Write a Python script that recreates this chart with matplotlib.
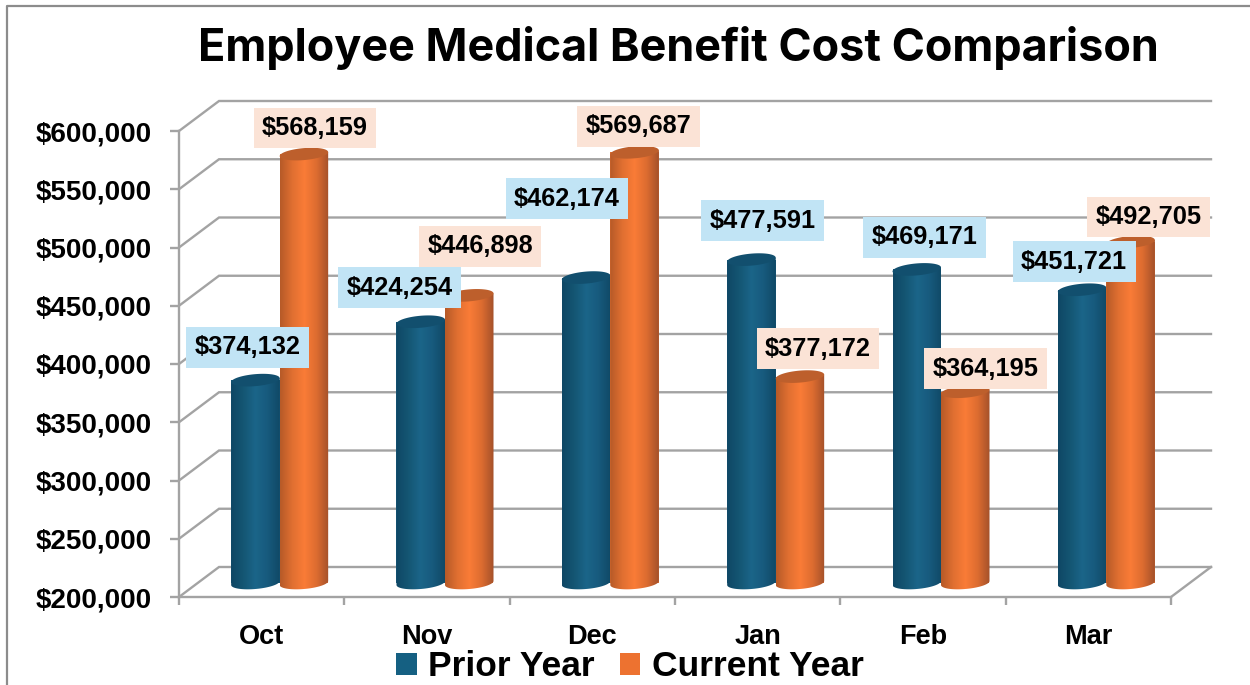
import numpy as np
import matplotlib
matplotlib.use("Agg")
import matplotlib.pyplot as plt
from matplotlib.colors import LinearSegmentedColormap
from matplotlib.patches import Polygon, Rectangle
from matplotlib.transforms import offset_copy

# data
months = ["Oct", "Nov", "Dec", "Jan", "Feb", "Mar"]
prior_year = [374132, 424254, 462174, 477591, 469171, 451721]
current_year = [568159, 446898, 569687, 377172, 364195, 492705]
y_ticks = [200000, 250000, 300000, 350000, 400000, 450000, 500000, 550000, 600000]

# label offsets from the top of each bar, in pixels
prior_offsets = [(-8, 33), (-21, 34), (-19, 79), (11, 39), (8, 32), (-8, 28)]
current_offsets = [(11, 26), (11, 49), (4, 26), (18, 28), (20, 23), (18, 25)]

W, H = 1250, 685
fig = plt.figure(figsize=(W / 100, H / 100), dpi=100, facecolor="white")

# front plane of the fake 3d box
left, right, top, bottom = 179, 1171, 131, 597
ax = fig.add_axes([left / W, 1 - bottom / H, (right - left) / W, (bottom - top) / H])
ax.set_xlim(-0.5, 5.5)
ax.set_ylim(200000, 600000)
ax.patch.set_visible(False)

px_x = 6 / (right - left)
px_y = 400000 / (bottom - top)
grey = "#a3a3a3"

# walls
depth_x = 40 * px_x
depth_y = 30 * px_y
for v in y_ticks:
    ax.plot([-0.5, -0.5 + depth_x, 5.5 + depth_x], [v, v + depth_y, v + depth_y],
            color=grey, lw=1.7, clip_on=False, zorder=1, solid_joinstyle="miter")
ax.plot([5.5, 5.5 + depth_x], [200000, 200000 + depth_y], color=grey, lw=1.7, clip_on=False, zorder=1)

# axes
for s in ["top", "right"]:
    ax.spines[s].set_visible(False)
for s in ["left", "bottom"]:
    ax.spines[s].set_color(grey)
    ax.spines[s].set_linewidth(1.7)
    ax.spines[s].set_zorder(1.5)

ax.set_yticks(y_ticks)
ax.set_yticklabels(["${:,}".format(v) for v in y_ticks], fontsize=20, fontweight="bold",
                   family="Liberation Sans")
ax.tick_params(axis="y", length=6.5, width=1.7, color=grey, pad=13)
ax.set_xticks(np.arange(-0.5, 6, 1))
ax.set_xticklabels([])
ax.tick_params(axis="x", length=6, width=1.7, color=grey)
ax.set_xticks(np.arange(6), months, minor=True, fontsize=19.5, fontweight="bold",
              family="Liberation Sans")
ax.tick_params(axis="x", which="minor", length=0, pad=19.5)

# cylinders
bar_trans = offset_copy(ax.transData, fig=fig, x=18, y=14, units="dots")
bar_w = 48.5 * px_x
cap_h = 6 * px_y
tilt = 2 * px_y

blue_map = LinearSegmentedColormap.from_list("b", ["#0f4765", "#145673", "#1b6589", "#175a7d", "#104966"])
orange_map = LinearSegmentedColormap.from_list("o", ["#b65a28", "#e06f31", "#fa7c37", "#dd6c30", "#a4512a"])
grad = np.linspace(0, 1, 128).reshape(1, -1)


def cylinder(cx, v, cmap, side, cap, z):
    t = np.linspace(0, 2 * np.pi, 80)
    ex = bar_w / 2 * np.cos(t)
    ey = cap_h * np.sin(t) + tilt * np.cos(t)
    # lower half of the base + sides + top
    low = np.linspace(np.pi, 2 * np.pi, 40)
    body_x = cx + bar_w / 2 * np.cos(low)
    body_y = 200000 + cap_h * np.sin(low) + tilt * np.cos(low)
    body = np.column_stack([np.r_[body_x, cx + bar_w / 2, cx - bar_w / 2],
                            np.r_[body_y, v + tilt, v - tilt]])
    ax.bar(cx, v - 200000, bottom=200000, width=bar_w, color=side, transform=bar_trans,
           zorder=z, clip_on=False)
    clip = Polygon(body, closed=True, transform=bar_trans, facecolor="none", edgecolor="none")
    ax.add_patch(clip)
    clip.set_clip_on(False)
    im = ax.imshow(grad, cmap=cmap, aspect="auto", zorder=z + 0.1, interpolation="bilinear",
                   extent=(cx - bar_w / 2, cx + bar_w / 2, 180000, v + 10000))
    im.set_transform(bar_trans)
    im.set_clip_path(clip)
    ax.fill(cx + ex, v + ey, color=cap, transform=bar_trans, zorder=z + 0.2, clip_on=False, lw=0)


for i, (p, c) in enumerate(zip(prior_year, current_year)):
    cylinder(i - bar_w / 2, p, blue_map, "#17587a", "#124f6e", 2 + i * 0.01)
    cylinder(i + bar_w / 2, c, orange_map, "#e06f31", "#bd5f2c", 3 + i * 0.01)

ax.set_xlim(-0.5, 5.5)
ax.set_ylim(200000, 600000)


def label(x, v, off, fc):
    ax.annotate("${:,}".format(v), xy=(x, v), xycoords=bar_trans, xytext=off,
                textcoords="offset pixels", ha="center", va="center", fontsize=18.3,
                fontweight="bold", family="Liberation Sans", color="black", zorder=10,
                bbox=dict(boxstyle="square,pad=0.33", fc=fc, ec=fc, lw=0), annotation_clip=False)


for i in range(6):
    label(i - bar_w / 2, prior_year[i], prior_offsets[i], "#c1e4f5")
    label(i + bar_w / 2, current_year[i], current_offsets[i], "#fbe3d6")

fig.text(678 / W, 1 - 48 / H, "Employee Medical Benefit Cost Comparison", ha="center", va="center",
         fontsize=32.4, fontweight="bold", family="Inter", color="black")

# legend
handles = [Rectangle((0, 0), 1, 1, fc="#156082"), Rectangle((0, 0), 1, 1, fc="#ed7230")]
fig.legend(handles, ["Prior Year", "Current Year"], loc="center", bbox_to_anchor=(630 / W, 1 - 667 / H),
           ncols=2, frameon=False, handlelength=0.58, handleheight=0.58, handletextpad=0.33, columnspacing=0.7,
           prop={"family": "Liberation Sans", "weight": "bold", "size": 25.5})

# chart border
fig.add_artist(plt.Line2D([7 / W, 7 / W, 1], [0, 1 - 6 / H, 1 - 6 / H], color="#8c8c8c", lw=1.6))

fig.savefig("out.png", dpi=100)
